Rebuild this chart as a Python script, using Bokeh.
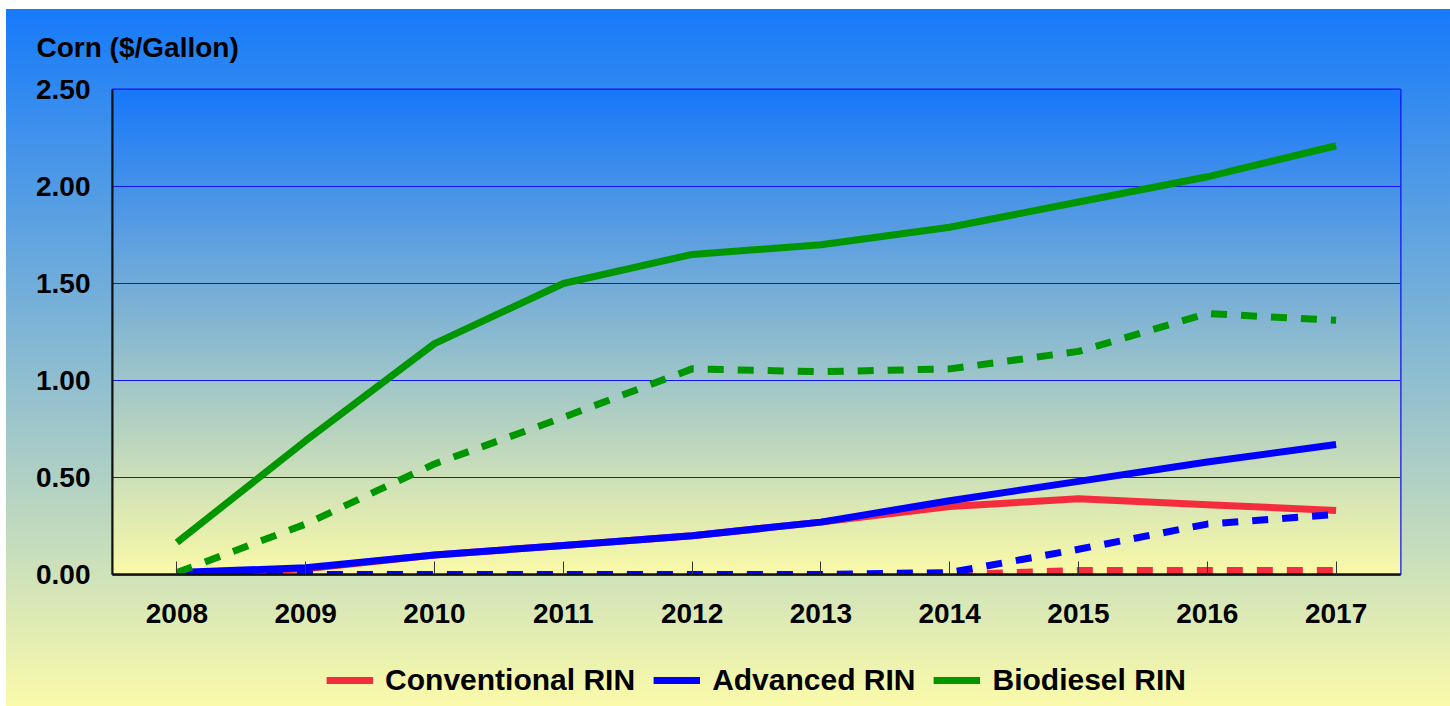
import numpy as np
from bokeh.plotting import figure
from bokeh.layouts import column
from bokeh.models import FixedTicker, NumeralTickFormatter, Legend, LegendItem, Range1d
from bokeh.embed import file_html
from bokeh.resources import INLINE

# ---- data ----
years = [2008, 2009, 2010, 2011, 2012, 2013, 2014, 2015, 2016, 2017]
conventional_rin = [0.00, 0.03, 0.10, 0.15, 0.20, 0.27, 0.35, 0.39, 0.36, 0.33]
conventional_dashed = [0.00, 0.00, 0.00, 0.00, 0.00, 0.00, 0.00, 0.02, 0.02, 0.02]
advanced_rin = [0.01, 0.035, 0.10, 0.15, 0.20, 0.27, 0.38, 0.48, 0.58, 0.67]
advanced_dashed = [0.00, 0.00, 0.00, 0.00, 0.00, 0.00, 0.01, 0.13, 0.26, 0.31]
biodiesel_rin = [0.165, 0.69, 1.19, 1.50, 1.65, 1.70, 1.79, 1.92, 2.05, 2.21]
biodiesel_dashed = [0.01, 0.26, 0.57, 0.81, 1.06, 1.045, 1.06, 1.15, 1.345, 1.31]
y_ticks = [0.0, 0.5, 1.0, 1.5, 2.0, 2.5]
series_names = ["Conventional RIN", "Advanced RIN", "Biodiesel RIN"]
y_title = "Corn ($/Gallon)"

RED = "#F42D3E"
BLUE = "#0000FF"
GREEN = "#009600"
FONT = "Liberation Sans"

W = 1450
H_MAIN = 640
H_LEG = 66

p = figure(width=W, height=H_MAIN, output_backend="svg", toolbar_location=None,
           x_range=Range1d(years[0] - 0.5, years[-1] + 0.5),
           y_range=Range1d(y_ticks[0], y_ticks[-1]),
           min_border_left=112, min_border_right=50, min_border_top=89, min_border_bottom=66)
p.background_fill_alpha = 0
p.border_fill_alpha = 0

# plot-area gradient (decoration)
n = 485
t = np.linspace(0.0, 1.0, n)
top_c = np.array([24, 120, 250], dtype=float)
bot_c = np.array([250, 250, 168], dtype=float)
cols = bot_c[None, :] + (top_c - bot_c)[None, :] * t[:, None]
img = np.zeros((n, 1), dtype=np.uint32)
view = img.view(dtype=np.uint8).reshape((n, 1, 4))
view[:, 0, 0] = cols[:, 0].astype(np.uint8)
view[:, 0, 1] = cols[:, 1].astype(np.uint8)
view[:, 0, 2] = cols[:, 2].astype(np.uint8)
view[:, 0, 3] = 255
p.image_rgba(image=[img], x=years[0] - 0.5, y=y_ticks[0],
             dw=len(years), dh=y_ticks[-1] - y_ticks[0], level="image")

# ---- lines ----
LW = 7
DASH = "16 14"
p.line(years, conventional_rin, line_color=RED, line_width=LW, line_cap="butt")
p.line(years, conventional_dashed, line_color=RED, line_width=LW, line_dash=DASH, line_cap="butt")
p.line(years, advanced_rin, line_color=BLUE, line_width=LW, line_cap="butt")
p.line(years, advanced_dashed, line_color=BLUE, line_width=LW, line_dash=DASH, line_cap="butt")
p.line(years, biodiesel_rin, line_color=GREEN, line_width=LW, line_cap="butt")
p.line(years, biodiesel_dashed, line_color=GREEN, line_width=LW, line_dash=DASH, line_cap="butt")

# ---- axes / grid ----
p.xgrid.visible = False
p.ygrid.ticker = FixedTicker(ticks=y_ticks)
p.ygrid.grid_line_color = "#1414F0"
p.ygrid.grid_line_width = 1

p.outline_line_color = "#1010F0"
p.outline_line_width = 2

xa = p.xaxis[0]
xa.ticker = FixedTicker(ticks=years)
xa.axis_line_color = "#111111"
xa.axis_line_width = 2.5
xa.major_tick_in = 13
xa.major_tick_out = 0
xa.major_tick_line_color = "#333333"
xa.major_tick_line_width = 1
xa.minor_tick_line_color = None
xa.major_label_standoff = 29
xa.major_label_text_font = FONT
xa.major_label_text_font_style = "bold"
xa.major_label_text_font_size = "28px"
xa.major_label_text_color = "black"

ya = p.yaxis[0]
ya.ticker = FixedTicker(ticks=y_ticks)
ya.formatter = NumeralTickFormatter(format="0.00")
ya.axis_line_color = "#111111"
ya.axis_line_width = 2
ya.major_tick_in = 0
ya.major_tick_out = 0
ya.minor_tick_line_color = None
ya.major_label_standoff = 22
ya.major_label_text_font = FONT
ya.major_label_text_font_style = "bold"
ya.major_label_text_font_size = "28px"
ya.major_label_text_color = "black"

# ---- title (axis unit label at top left) ----
p.title.text = y_title
p.title.text_font = FONT
p.title.text_font_style = "bold"
p.title.text_font_size = "28px"
p.title.text_color = "black"
p.title.align = "left"
p.title.offset = -76
p.title.standoff = 54

# ---- legend strip (separate figure below the chart) ----
q = figure(width=W, height=H_LEG, output_backend="svg", toolbar_location=None,
           x_range=Range1d(0, 1), y_range=Range1d(0, 1),
           min_border_left=112, min_border_right=50, min_border_top=14, min_border_bottom=0)
q.axis.visible = False
q.grid.visible = False
q.outline_line_color = None
q.background_fill_alpha = 0
q.border_fill_alpha = 0
# legend proxies: same series, plotted outside this strip's visible range
lg_conv = q.line(years, conventional_rin, line_color=RED, line_width=LW)
lg_adv = q.line(years, advanced_rin, line_color=BLUE, line_width=LW)
lg_bio = q.line(years, biodiesel_rin, line_color=GREEN, line_width=LW)

legend = Legend(items=[LegendItem(label=series_names[0], renderers=[lg_conv]),
                       LegendItem(label=series_names[1], renderers=[lg_adv]),
                       LegendItem(label=series_names[2], renderers=[lg_bio])],
                orientation="horizontal", location="center",
                label_text_font=FONT, label_text_font_style="bold",
                label_text_font_size="30px", label_text_color="black",
                glyph_width=47, glyph_height=14, label_height=30,
                label_standoff=12, spacing=18, padding=0, margin=0,
                background_fill_alpha=0, border_line_alpha=0)
q.add_layout(legend)

layout = column(p, q, spacing=0)
layout.styles = {
    "background-color": "white",
    "background-image": "linear-gradient(180deg, rgb(22,122,250) 0%, rgb(250,250,170) 100%)",
    "background-repeat": "no-repeat",
    "background-position": "6px 9px",
    "background-size": "calc(100% - 6px) calc(100% - 9px)",
}

open("out.html", "w").write(file_html(layout, INLINE))
